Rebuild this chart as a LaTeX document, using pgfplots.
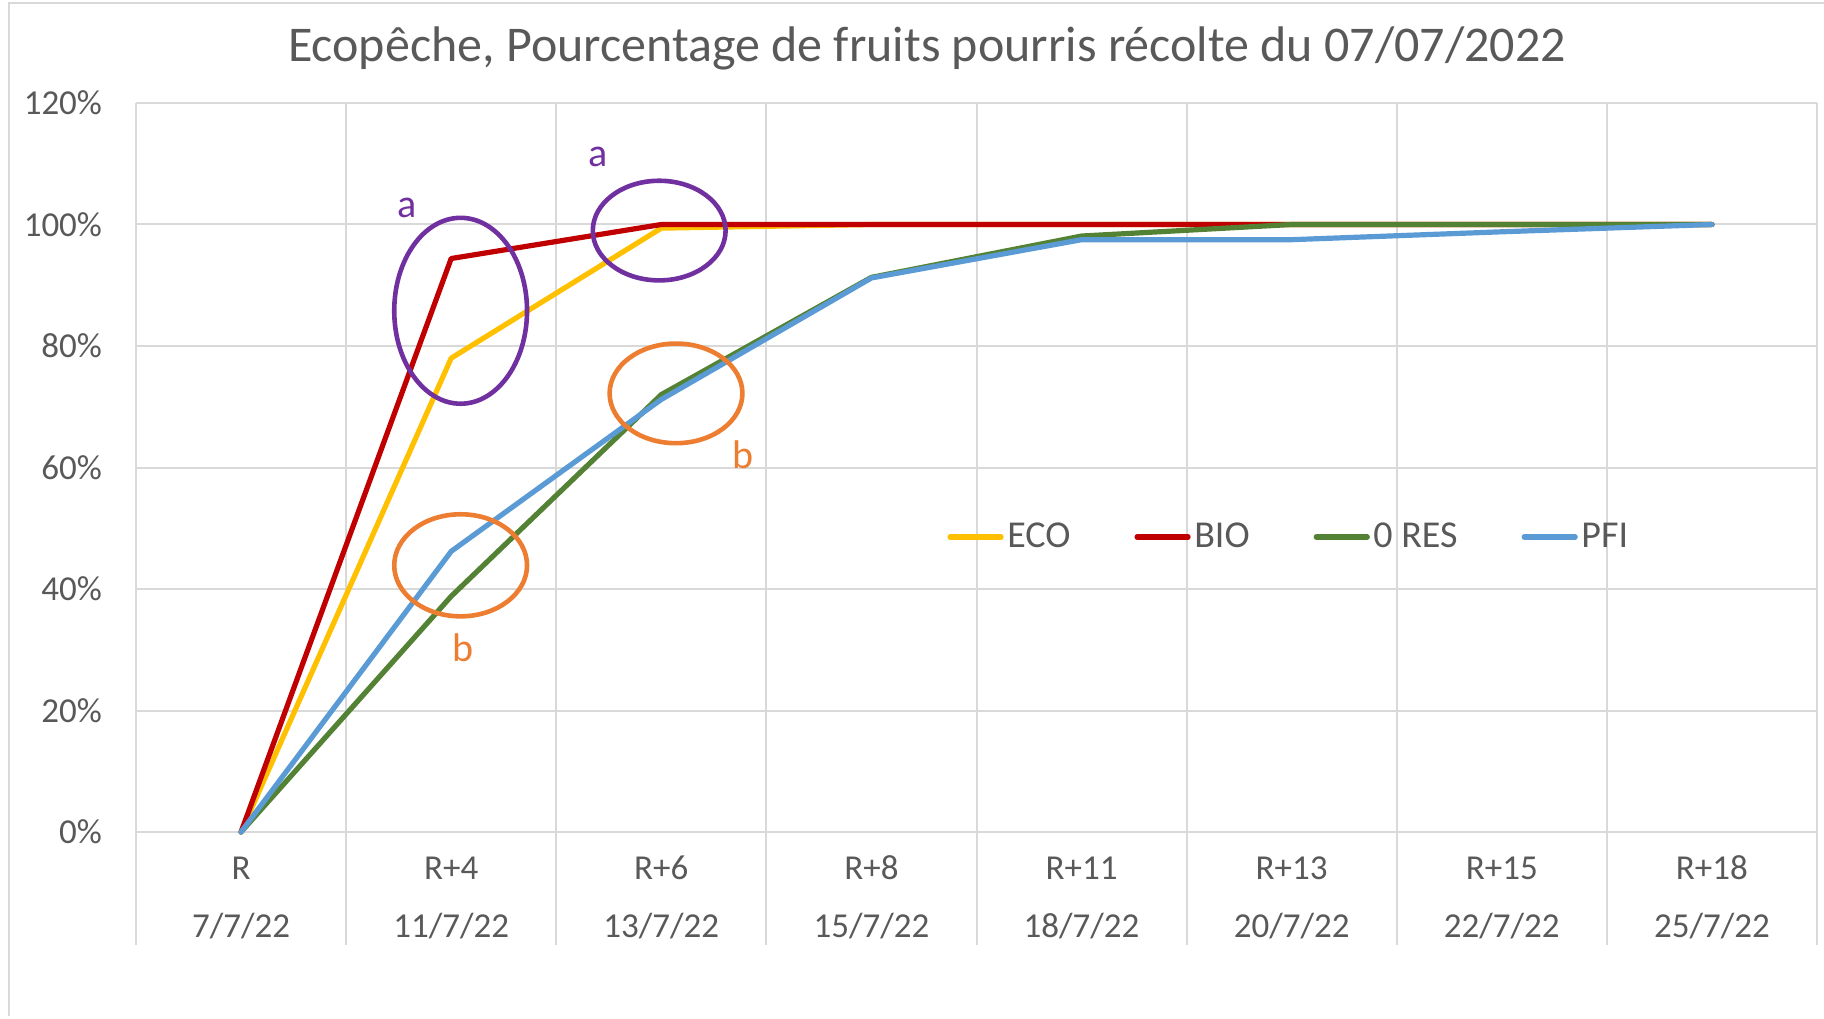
\documentclass[border=0pt]{standalone}
\usepackage{fontspec}
\setmainfont{Carlito}
\usepackage{pgfplots}
\pgfplotsset{compat=1.18}
\definecolor{txt}{HTML}{595959}
\definecolor{gridc}{HTML}{D9D9D9}
\definecolor{eco}{HTML}{FFC000}
\definecolor{bio}{HTML}{C00000}
\definecolor{ores}{HTML}{548235}
\definecolor{pfi}{HTML}{5B9BD5}
\definecolor{purp}{HTML}{7030A0}
\definecolor{oran}{HTML}{ED7D31}
\newcommand\st{\rule{0pt}{13pt}}
\begin{document}
\begin{tikzpicture}
\useasboundingbox (-68pt,-93pt) rectangle (844pt,416pt);
\draw[gridc, line width=1pt] (-63.5pt,-92pt) -- (-63.5pt,414.5pt) -- (850pt,414.5pt);
\begin{axis}[
  at={(0,0)}, anchor=south west, scale only axis,
  width=840.5pt, height=364.5pt,
  xmin=-0.5, xmax=7.5, ymin=0, ymax=120,
  clip=false,
  xtick={0,...,7},
  xticklabels={{\st R\\7/7/22},{\st R+4\\11/7/22},{\st R+6\\13/7/22},{\st R+8\\15/7/22},{\st R+11\\18/7/22},{\st R+13\\20/7/22},{\st R+15\\22/7/22},{\st R+18\\25/7/22}},
  minor xtick={-0.5,0.5,...,7.5},
  ytick={0,20,...,120},
  yticklabel={\pgfmathprintnumber{\tick}\%},
  /pgf/number format/assume math mode=true,
  ymajorgrids, xminorgrids,
  major grid style={gridc, line width=1pt},
  minor grid style={gridc, line width=1pt},
  axis line style={draw=none},
  tick align=outside,
  xtick pos=bottom, ytick pos=left,
  major tick length=0pt,
  minor tick length=56.5pt,
  minor x tick style={gridc, line width=1pt},
  ytick style={draw=none},
  x tick label style={font=\fontsize{17.5}{29}\selectfont, text=txt, align=center, inner sep=0pt, anchor=north, yshift=-10.3pt},
  y tick label style={font=\fontsize{17.5}{20}\selectfont, text=txt, inner sep=0pt, anchor=east, xshift=-16.8pt},
  legend columns=4,
  legend image code/.code={\draw[#1, line width=2.6pt] (0pt,0pt) -- (25.5pt,0pt);},
  legend style={at={(0.4825,0.4047)}, anchor=west, draw=none, fill=none, inner sep=0pt,
    font=\fontsize{19}{22}\selectfont, text=txt,
    nodes={inner sep=0pt},
    /tikz/every odd column/.append style={column sep=1.8pt},
    /tikz/every even column/.append style={column sep=32pt}},
  every axis plot/.append style={line width=2.6pt, line join=round, line cap=round},
]
\addplot[eco] coordinates {(0,0) (1,78) (2,99.4) (3,100) (4,100) (5,100) (6,100) (7,100)};
\addlegendentry{ECO}
\addplot[bio] coordinates {(0,0) (1,94.4) (2,100) (3,100) (4,100) (5,100) (6,100) (7,100)};
\addlegendentry{BIO}
\addplot[ores] coordinates {(0,0) (1,38.8) (2,72) (3,91.3) (4,98.1) (5,100) (6,100) (7,100)};
\addlegendentry{0 RES}
\addplot[pfi] coordinates {(0,0) (1,46.2) (2,71.2) (3,91.2) (4,97.5) (5,97.5) (6,98.8) (7,100)};
\addlegendentry{PFI}
\draw[purp, line width=2.3pt] (axis cs:1.045,85.8) ellipse [x radius=0.316, y radius=15.3];
\draw[purp, line width=2.3pt] (axis cs:1.99,99.0) ellipse [x radius=0.316, y radius=8.2];
\draw[oran, line width=2.3pt] (axis cs:1.045,43.9) ellipse [x radius=0.316, y radius=8.4];
\draw[oran, line width=2.3pt] (axis cs:2.07,72.2) ellipse [x radius=0.316, y radius=8.2];
\node[purp, font=\fontsize{20}{24}\selectfont] at (axis cs:0.79,102.7) {a};
\node[purp, font=\fontsize{20}{24}\selectfont] at (axis cs:1.70,111.1) {a};
\node[oran, font=\fontsize{20}{24}\selectfont] at (axis cs:1.056,30.3) {b};
\node[oran, font=\fontsize{20}{24}\selectfont] at (axis cs:2.39,62.1) {b};
\end{axis}
\node[anchor=base, text=txt, font=\fontsize{25}{30}\selectfont] at (395.5pt,385pt) {Ecopêche, Pourcentage de fruits pourris récolte du 07/07/2022};
\end{tikzpicture}
\end{document}
